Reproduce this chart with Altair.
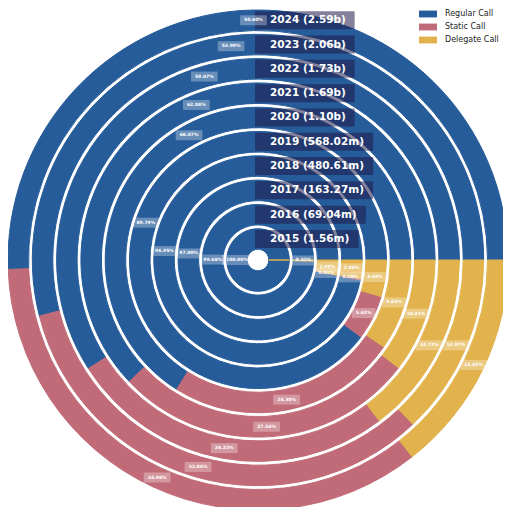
import math
import altair as alt
import pandas as pd

years = [2015, 2016, 2017, 2018, 2019, 2020, 2021, 2022, 2023, 2024]
totals_m = [1.56, 69.04, 163.27, 480.61, 568.02, 1100, 1690, 1730, 2060, 2590]
series = ["Regular Call", "Static Call", "Delegate Call"]
regular = [100.00, 99.68, 97.00, 96.95, 89.79, 66.07, 62.04, 59.07, 53.99, 50.60]
static = [0.00, 0.00, 0.01, 0.20, 5.62, 24.30, 27.54, 26.22, 33.04, 34.98]
delegate = [0.003, 0.32, 2.99, 2.86, 4.60, 9.63, 10.41, 14.72, 12.97, 14.42]
colors = ["#265c9a", "#c16b78", "#e2b34c"]

R0, STEP, WR = 10.8, 24.3, 20.5
W, H = 495, 499
CX, CY = 250, 252  # chart centre inside the view

rows = []
for i, y in enumerate(years):
    for k, (name, vals) in enumerate(zip(series, [regular, static, delegate])):
        v = vals[i]
        if v > 0:
            rows.append({"year": y, "ring": i, "series": name, "ord": k, "pct": v})
df = pd.DataFrame(rows)


def fmt_total(m):
    return f"{m / 1000:.2f}b" if m >= 1000 else f"{m:.2f}m"


ydf = pd.DataFrame({
    "year": years,
    "ring": list(range(len(years))),
    "label": [f"{y} ({fmt_total(t)})" for y, t in zip(years, totals_m)],
})

xs = alt.Scale(domain=[-CX, W - CX], nice=False, zero=False)
ys = alt.Scale(domain=[CY - H, CY], nice=False, zero=False)
cs = alt.Scale(domain=series, range=colors)

base = alt.Chart(df).transform_joinaggregate(
    total="sum(pct)", groupby=["year"]
).transform_window(
    cum="sum(pct)", sort=[alt.SortField("ord", order="ascending")], groupby=["year"]
).transform_calculate(
    t1="datum.cum / datum.total",
    t0="(datum.cum - datum.pct) / datum.total",
    r_in="datum.ring",
    r_out=f"datum.ring + {WR / STEP}",
    cx="0",
    cy="0",
)

arcs = base.mark_arc(strokeWidth=1).encode(
    x=alt.X("cx:Q", scale=xs, axis=None),
    y=alt.Y("cy:Q", scale=ys, axis=None),
    theta=alt.Theta("t0:Q", scale=alt.Scale(domain=[0, 1], range=[2.5 * math.pi, 0.5 * math.pi])),
    theta2="t1:Q",
    radius=alt.Radius("r_out:Q", scale=alt.Scale(type="linear", domain=[0, 10],
                                                 range=[R0, R0 + 10 * STEP], zero=False, nice=False)),
    radius2="r_in:Q",
    color=alt.Color("series:N", scale=cs, legend=alt.Legend(
        title=None, orient="none", legendX=411, legendY=-3,
        labelFont="DejaVu Sans", labelFontSize=8, labelColor="#222",
        symbolType="M-1,-0.38L1,-0.38L1,0.38L-1,0.38Z", symbolSize=324,
        symbolStrokeWidth=0, labelOffset=8, rowPadding=0)),
    stroke=alt.Stroke("series:N", scale=cs, legend=None),
    order=alt.Order("ord:Q"),
)

lab = base.transform_filter("datum.pct >= 0.005").transform_calculate(
    ang="PI * (datum.t0 + datum.t1)",
    rm=f"{R0} + {STEP} * datum.ring + {WR / 2}",
    lx="datum.rm * cos(datum.ang)",
    ly="datum.rm * sin(datum.ang)",
    txt="format(datum.pct, '.2f') + '%'",
    bw="14.2 + 3.13 * (length(datum.txt) - 2)",
    bx1="datum.lx - datum.bw / 2",
    bx2="datum.lx + datum.bw / 2",
    by1="datum.ly - 5",
    by2="datum.ly + 5",
)

lab_box = lab.mark_rect(color="white", opacity=0.3).encode(
    x=alt.X("bx1:Q", scale=xs, axis=None), x2="bx2:Q",
    y=alt.Y("by1:Q", scale=ys, axis=None), y2="by2:Q",
)
lab_txt = lab.mark_text(font="DejaVu Sans", fontSize=4.5, fontWeight="bold", color="white",
                        align="center", baseline="middle").encode(
    x=alt.X("lx:Q", scale=xs, axis=None),
    y=alt.Y("ly:Q", scale=ys, axis=None),
    text="txt:N",
)

yb = alt.Chart(ydf).transform_calculate(
    yc=f"{R0} + {STEP} * datum.ring + {WR / 2}",
    bw="41.25 + 7.3 * (length(datum.label) - 5) + (test(/m/, datum.label) ? 11.2 : 7.3)",
    bx1="-3",
    bx2="-3 + datum.bw",
    by1="datum.yc - 9",
    by2="datum.yc + 9",
    tx="12",
)
year_box = yb.mark_rect(color="#1e1a48", opacity=0.55).encode(
    x=alt.X("bx1:Q", scale=xs, axis=None), x2="bx2:Q",
    y=alt.Y("by1:Q", scale=ys, axis=None), y2="by2:Q",
)
year_txt = yb.mark_text(font="DejaVu Sans", fontSize=10.5, fontWeight="bold", color="white",
                        align="left", baseline="middle").encode(
    x=alt.X("tx:Q", scale=xs, axis=None),
    y=alt.Y("yc:Q", scale=ys, axis=None),
    text="label:N",
)

chart = alt.layer(arcs, year_box, year_txt, lab_box, lab_txt).properties(
    width=W, height=H,
    autosize=alt.AutoSizeParams(type="none"),
    padding=0,
).configure_view(stroke=None)

chart.save("out.html", embed_options={"renderer": "svg", "actions": False})
